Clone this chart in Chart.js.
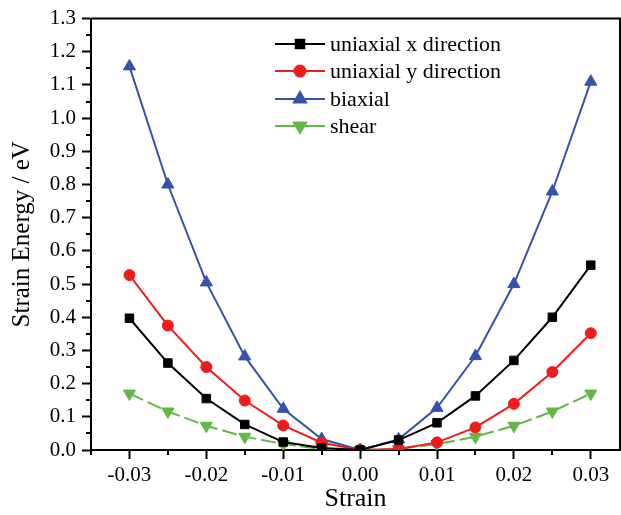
<!DOCTYPE html>
<html>
<head>
<meta charset="utf-8">
<script src="https://cdn.jsdelivr.net/npm/chart.js@4.4.0/dist/chart.umd.min.js"></script>
<style>
    html, body { margin: 0; padding: 0; background: #fff; }
    #wrap { width: 621px; height: 515px; }
</style>
</head>
<body>
<div id="wrap"><canvas id="strain-chart"></canvas></div>
<script>
const strains = [-0.03, -0.025, -0.02, -0.015, -0.01, -0.005, 0, 0.005, 0.01, 0.015, 0.02, 0.025, 0.03];
const uniaxialX = [0.397, 0.262, 0.155, 0.077, 0.024, 0.006, 0, 0.030, 0.082, 0.163, 0.270, 0.400, 0.557];
const uniaxialY = [0.527, 0.375, 0.250, 0.149, 0.074, 0.022, 0, 0.003, 0.023, 0.068, 0.139, 0.235, 0.352];
const biaxial = [1.156, 0.800, 0.505, 0.282, 0.124, 0.033, 0, 0.032, 0.127, 0.283, 0.500, 0.779, 1.110];
const shear = [0.170, 0.116, 0.073, 0.040, 0.018, 0.003, 0, 0.003, 0.018, 0.040, 0.073, 0.116, 0.170];

const xTicks = [-0.03, -0.02, -0.01, 0, 0.01, 0.02, 0.03];
const yTicks = [0, 0.1, 0.2, 0.3, 0.4, 0.5, 0.6, 0.7, 0.8, 0.9, 1.0, 1.1, 1.2, 1.3];

const serif = "'Liberation Serif', 'Times New Roman', serif";

function pts(values) {
    return strains.map((x, i) => ({ x: x, y: values[i] }));
}

const datasets = [
    { label: "uniaxial x direction", data: pts(uniaxialX), borderColor: "#000000", backgroundColor: "#000000",
      pointStyle: "rect", pointRadius: 6, pointRotation: 0 },
    { label: "uniaxial y direction", data: pts(uniaxialY), borderColor: "#f01c1c", backgroundColor: "#f01c1c",
      pointStyle: "circle", pointRadius: 5.5, pointRotation: 0 },
    { label: "biaxial", data: pts(biaxial), borderColor: "#3552ad", backgroundColor: "#3552ad",
      pointStyle: "triangle", pointRadius: 7, pointRotation: 0 },
    { label: "shear", data: pts(shear), borderColor: "#62b846", backgroundColor: "#62b846",
      pointStyle: "triangle", pointRadius: 7, pointRotation: 180, borderDash: [15, 5] }
];
datasets.forEach(d => { d.borderWidth = 2; d.pointBorderWidth = 1; d.pointHoverRadius = d.pointRadius; });

// minor ticks, frame and the legend inside the plot
const decorations = {
    id: "decorations",
    afterDraw(chart) {
        const ctx = chart.ctx;
        const area = chart.chartArea;
        const xs = chart.scales.x, ys = chart.scales.y;
        ctx.save();
        ctx.strokeStyle = "#000";
        ctx.lineWidth = 2;
        ctx.beginPath();
        ctx.moveTo(area.left, area.top);
        ctx.lineTo(area.right, area.top);
        ctx.lineTo(area.right, area.bottom);
        for (let v = 0.05; v < 1.3; v += 0.1) {
            const y = Math.round(ys.getPixelForValue(v));
            ctx.moveTo(area.left - 5, y);
            ctx.lineTo(area.left, y);
        }
        for (let v = -0.035; v < 0.034; v += 0.01) {
            const x = Math.round(xs.getPixelForValue(v));
            ctx.moveTo(x, area.bottom);
            ctx.lineTo(x, area.bottom + 5);
        }
        ctx.stroke();

        // legend
        ctx.font = "22px " + serif;
        ctx.textBaseline = "middle";
        ctx.textAlign = "left";
        const rowY = [44, 71, 99, 126];
        chart.data.datasets.forEach((d, i) => {
            const y = rowY[i];
            ctx.strokeStyle = d.borderColor;
            ctx.lineWidth = 2;
            ctx.setLineDash([]);
            ctx.beginPath();
            ctx.moveTo(275, y);
            ctx.lineTo(325, y);
            ctx.stroke();
            ctx.fillStyle = d.backgroundColor;
            Chart.helpers.drawPoint(ctx, {
                pointStyle: d.pointStyle, rotation: d.pointRotation,
                radius: d.pointRadius, borderWidth: 1
            }, 300, y);
            ctx.fillStyle = "#000";
            ctx.fillText(d.label, 330, y + 1);
        });
        ctx.restore();
    }
};

new Chart(document.getElementById("strain-chart"), {
    type: "line",
    data: { datasets: datasets },
    options: {
        responsive: true,
        maintainAspectRatio: false,
        animation: false,
        layout: { autoPadding: false, padding: { top: 17, right: 1, left: 0, bottom: 0 } },
        plugins: { legend: { display: false }, tooltip: { enabled: false } },
        scales: {
            x: {
                type: "linear",
                min: -0.035,
                max: 0.0338,
                afterBuildTicks: s => { s.ticks = xTicks.map(v => ({ value: v })); },
                afterFit: s => { s.height = 65; s.paddingLeft = 0; s.paddingRight = 0; },
                ticks: {
                    color: "#000",
                    font: { family: serif, size: 21 },
                    padding: 4,
                    maxRotation: 0,
                    autoSkip: false,
                    callback: v => v.toFixed(2)
                },
                grid: { drawOnChartArea: false, tickLength: 9, tickWidth: 2, tickColor: "#000" },
                border: { display: true, width: 2, color: "#000" },
                title: {
                    display: true, text: "Strain", color: "#000",
                    font: { family: serif, size: 26 }, padding: { top: 0, bottom: 0 }
                }
            },
            y: {
                min: 0,
                max: 1.3,
                afterBuildTicks: s => { s.ticks = yTicks.map(v => ({ value: v })); },
                afterFit: s => { s.width = 91; },
                ticks: {
                    color: "#000",
                    font: { family: serif, size: 21 },
                    padding: 6,
                    autoSkip: false,
                    callback: v => v.toFixed(1)
                },
                grid: { drawOnChartArea: false, tickLength: 9, tickWidth: 2, tickColor: "#000" },
                border: { display: true, width: 2, color: "#000" },
                title: {
                    display: true, text: "Strain Energy / eV", color: "#000",
                    font: { family: serif, size: 25 }, padding: { top: 7, bottom: 0 }
                }
            }
        }
    },
    plugins: [decorations]
});
</script>
</body>
</html>
